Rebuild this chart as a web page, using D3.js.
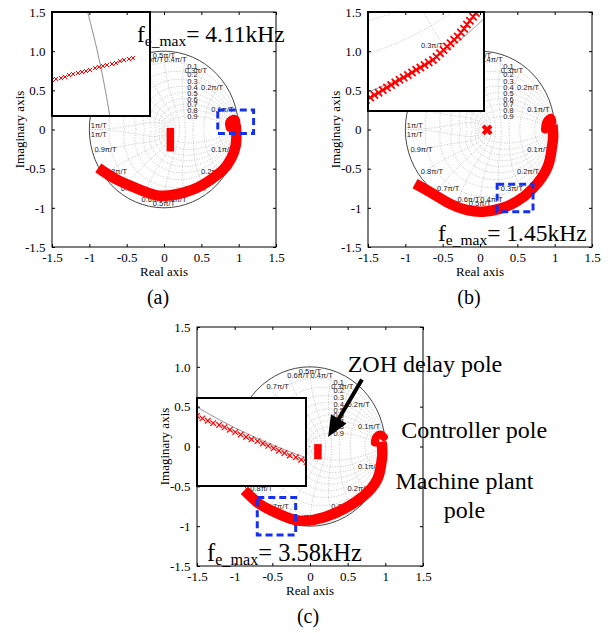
<!DOCTYPE html>
<html><head><meta charset="utf-8">
<script src="https://cdn.jsdelivr.net/npm/d3@7"></script>
<style>body{margin:0;background:#fff} svg{display:block}</style>
</head><body>
<svg id="chart" width="610" height="633"></svg>
<script>
// ---------------- data ----------------
const axisTicks = [-1.5, -1, -0.5, 0, 0.5, 1, 1.5];
const xTickLabels = ["-1.5", "-1", "-0.5", "0", "0.5", "1", "1.5"];
const yTickLabels = ["-1.5", "-1", "-0.5", "0", "0.5", "1.0", "1.5"];
const dampingRatios = [0.1, 0.2, 0.3, 0.4, 0.5, 0.6, 0.7, 0.8, 0.9];
const naturalFreqs = [0.1, 0.2, 0.3, 0.4, 0.5, 0.6, 0.7, 0.8, 0.9, 1];
const panelNames = ["(a)", "(b)", "(c)"];
const feMaxValues = ["4.11kHz", "1.45kHz", "3.58kHz"];
const annotationTexts = ["ZOH delay pole", "Controller pole", "Machine plant", "pole"];

// machine plant pole loci (real, imag)
const machinePoleA = [[0.96,0.06],[0.97,-0.1],[0.94,-0.28],[0.84,-0.46],[0.70,-0.59],[0.45,-0.74],[0.15,-0.83],[-0.1,-0.84],[-0.37,-0.75],[-0.65,-0.63],[-0.88,-0.49]];
const machinePoleB = [[0.97,0.06],[0.98,-0.1],[0.96,-0.25],[0.90,-0.49],[0.71,-0.75],[0.49,-0.92],[0.27,-1.01],[0.04,-1.05],[-0.17,-1.03],[-0.40,-0.95],[-0.63,-0.82],[-0.87,-0.69]];
const machinePoleC = [[0.95,0.06],[0.96,-0.1],[0.94,-0.25],[0.89,-0.42],[0.70,-0.63],[0.35,-0.83],[0.05,-0.92],[-0.2,-0.92],[-0.5,-0.81],[-0.7,-0.7],[-0.87,-0.55]];
// controller pole loci
const controllerPoleA = [[0.88,0.02],[0.87,0.08],[0.91,0.13],[0.96,0.13],[0.97,0.08]];
const controllerPoleB = [[0.87,0.0],[0.89,0.1],[0.95,0.15],[0.97,0.1]];
const controllerPoleC = [[0.86,0.05],[0.88,0.12],[0.94,0.15],[0.98,0.12]];
// ZOH delay pole loci
const zohPoleA = [[0.085,0.02],[0.085,-0.28]];
const zohPoleB = [[0.095,-0.005]];
const zohPoleC = [[0.105,0.03],[0.105,-0.16]];
// zoom boxes [xmin, xmax, ymin, ymax]
const zoomBoxA = [0.72, 1.2, -0.05, 0.25];
const zoomBoxB = [0.23, 0.71, -1.05, -0.70];
const zoomBoxC = [-0.70, -0.19, -1.11, -0.64];
// inset domains
const insetXA = [0.930, 1.028], insetYA = [0.156, 0.260];
const insetXB = [0.342, 0.703], insetYB = [-0.999, -0.691];
const insetXC = [-0.510, -0.328], insetYC = [-0.992, -0.845];
// inset pole markers
const insetMarkersA = [[0.930,0.192],[0.934,0.193],[0.939,0.194],[0.943,0.195],[0.947,0.197],[0.951,0.198],[0.956,0.199],[0.960,0.200],[0.964,0.201],[0.968,0.202],[0.973,0.204],[0.977,0.205],[0.981,0.206],[0.985,0.207],[0.990,0.208],[0.994,0.209],[0.998,0.211],[1.002,0.212],[1.007,0.213],[1.011,0.214]];
const insetMarkersB = [[0.336,-0.965],[0.349,-0.957],[0.362,-0.949],[0.375,-0.942],[0.388,-0.934],[0.401,-0.926],[0.414,-0.918],[0.427,-0.910],[0.440,-0.902],[0.453,-0.895],[0.466,-0.887],[0.479,-0.879],[0.492,-0.871],[0.505,-0.864],[0.518,-0.856],[0.531,-0.848],[0.544,-0.840],[0.555,-0.830],[0.566,-0.819],[0.577,-0.809],[0.588,-0.798],[0.599,-0.788],[0.610,-0.777],[0.621,-0.767],[0.631,-0.755],[0.641,-0.743],[0.650,-0.730],[0.659,-0.718],[0.669,-0.706],[0.678,-0.694]];
const insetMarkersC = [[-0.510,-0.875],[-0.501,-0.879],[-0.492,-0.883],[-0.483,-0.887],[-0.473,-0.890],[-0.464,-0.894],[-0.455,-0.898],[-0.446,-0.902],[-0.437,-0.906],[-0.428,-0.910],[-0.419,-0.914],[-0.409,-0.917],[-0.400,-0.921],[-0.391,-0.925],[-0.382,-0.929],[-0.373,-0.933],[-0.364,-0.937],[-0.355,-0.941],[-0.345,-0.944],[-0.336,-0.948],[-0.327,-0.952]];

// ---------------- drawing ----------------
const SERIF = "'Liberation Serif','Times New Roman',serif";
const SANS = "'Liberation Sans',Arial,sans-serif";
const RED = "#ff0000";
const svg = d3.select("#chart");
let clipCount = 0;

function addClip(x0, y0, w, h) {
  const id = "clip" + (clipCount++);
  svg.append("clipPath").attr("id", id).append("rect")
    .attr("x", x0).attr("y", y0).attr("width", w).attr("height", h);
  return "url(#" + id + ")";
}

// bounds: [x0,x1,y0,y1] pixel region where labels are allowed
function zgrid(g, x, y, withLabels, bounds) {
  const line = d3.line().x(d => x(d[0])).y(d => y(d[1]));
  const gridStyle = p => p.attr("fill", "none").attr("stroke", "#a8a8a8")
    .attr("stroke-width", 0.7).attr("stroke-dasharray", "1,1.6");
  dampingRatios.forEach(z => {
    const s = Math.sqrt(1 - z * z), tMax = Math.PI / s;
    [1, -1].forEach(sg => {
      const pts = d3.range(0, 301).map(i => {
        const t = tMax * i / 300, m = Math.exp(-z * t);
        return [m * Math.cos(s * t), sg * m * Math.sin(s * t)];
      });
      g.append("path").attr("d", line(pts)).call(gridStyle);
    });
  });
  naturalFreqs.forEach(w => {
    const W = w * Math.PI;
    [1, -1].forEach(sg => {
      const pts = d3.range(0, 121).map(i => {
        const z = i / 120, m = Math.exp(-z * W), a = W * Math.sqrt(1 - z * z);
        return [m * Math.cos(a), sg * m * Math.sin(a)];
      });
      g.append("path").attr("d", line(pts)).call(gridStyle);
    });
  });
  if (!withLabels) return;
  const inside = (px, py, anchor) => {
    const w = 22, l = anchor === "end" ? px - w : (anchor === "middle" ? px - w / 2 : px);
    return l >= bounds[0] && l + w <= bounds[1] && py - 7 >= bounds[2] && py + 1 <= bounds[3];
  };
  const lab = g.append("g").style("font-family", SANS).style("font-size", "7.5px").attr("fill", "#222");
  naturalFreqs.forEach(w => {
    const a = w * Math.PI;
    const cx = Math.cos(a), sy = Math.sin(a);
    const anchor = w < 0.45 ? "end" : (w > 0.55 ? "start" : "middle");
    const txt = (w === 1 ? "1" : w) + "\u03c0/T";
    const px = x(cx * 0.98);
    [[y(sy) + 7], [y(-sy) - 2]].forEach(([py]) => {
      if (inside(px, py, anchor))
        lab.append("text").attr("x", px).attr("y", py).attr("text-anchor", anchor).text(txt);
    });
  });
  dampingRatios.forEach(z => {
    const s = Math.sqrt(1 - z * z);
    let pt = [1, 0];
    for (let i = 0; i < 2000; i++) {
      const t = i * 0.002, m = Math.exp(-z * t);
      pt = [m * Math.cos(s * t), m * Math.sin(s * t)];
      if (pt[0] <= 0.38) break;
    }
    const px = x(0.38), py = y(pt[1]) + 3;
    if (px - 6 >= bounds[0] && px + 6 <= bounds[1] && py - 7 >= bounds[2] && py <= bounds[3])
      lab.append("text").attr("x", px).attr("y", py).attr("text-anchor", "middle").text(z);
  });
}

function crossPath(r) { return `M${-r},${-r}L${r},${r}M${-r},${r}L${r},${-r}`; }

function drawPanel(p, idx) {
  const x = d3.scaleLinear().domain([-1.5, 1.5]).range([p.left, p.right]);
  const y = d3.scaleLinear().domain([-1.5, 1.5]).range([p.bottom, p.top]);
  const g = svg.append("g");
  const plot = g.append("g").attr("clip-path", addClip(p.left, p.top, p.right - p.left, p.bottom - p.top));
  zgrid(plot.append("g"), x, y, true, [p.left, p.right, p.top, p.bottom]);
  // unit circle
  plot.append("ellipse").attr("cx", x(0)).attr("cy", y(0))
    .attr("rx", x(1) - x(0)).attr("ry", y(0) - y(1))
    .attr("fill", "none").attr("stroke", "#333").attr("stroke-width", 0.9);
  const smooth = d3.line().x(d => x(d[0])).y(d => y(d[1])).curve(d3.curveNatural);
  const loop = d3.line().x(d => x(d[0])).y(d => y(d[1])).curve(d3.curveCatmullRom);
  // machine plant pole
  plot.append("path").attr("d", smooth(p.machine)).attr("fill", "none")
    .attr("stroke", RED).attr("stroke-width", 10.5).attr("stroke-linejoin", "round");
  // controller pole
  plot.append("path").attr("d", loop(p.controller)).attr("fill", "none")
    .attr("stroke", RED).attr("stroke-width", 8).attr("stroke-linecap", "round").attr("stroke-linejoin", "round");
  // ZOH pole
  if (p.zoh.length > 1) {
    plot.append("path").attr("d", d3.line().x(d => x(d[0])).y(d => y(d[1]))(p.zoh))
      .attr("fill", "none").attr("stroke", RED).attr("stroke-width", 7.5);
  } else {
    plot.selectAll(null).data(p.zoh).join("path")
      .attr("transform", d => `translate(${x(d[0])},${y(d[1])})`)
      .attr("d", crossPath(4)).attr("stroke", RED).attr("stroke-width", 4);
  }
  // zoom box
  const b = p.box;
  g.append("rect").attr("x", x(b[0])).attr("y", y(b[3]))
    .attr("width", x(b[1]) - x(b[0])).attr("height", y(b[2]) - y(b[3]))
    .attr("fill", "none").attr("stroke", "#1430f0").attr("stroke-width", 3)
    .attr("stroke-dasharray", "7,4");
  // inset
  const ins = p.inset;
  const [ix0, ix1, iy0, iy1] = ins.px;
  const ix = d3.scaleLinear().domain(ins.dx).range([ix0, ix1]);
  const iy = d3.scaleLinear().domain(ins.dy).range([iy1, iy0]);
  const ig = g.append("g");
  ig.append("rect").attr("x", ix0).attr("y", iy0).attr("width", ix1 - ix0).attr("height", iy1 - iy0).attr("fill", "#fff");
  const ic = ig.append("g").attr("clip-path", addClip(ix0, iy0, ix1 - ix0, iy1 - iy0));
  if (ins.grid) zgrid(ic.append("g"), ix, iy, true, [ix0, ix1, iy0, iy1]);
  const circ = d3.range(0, 3601).map(i => [Math.cos(i / 3600 * 2 * Math.PI), Math.sin(i / 3600 * 2 * Math.PI)]);
  ic.append("path").attr("d", d3.line().x(d => ix(d[0])).y(d => iy(d[1]))(circ))
    .attr("fill", "none").attr("stroke", "#8a8a8a").attr("stroke-width", 1);
  ic.selectAll(null).data(ins.markers).join("path")
    .attr("transform", d => `translate(${ix(d[0])},${iy(d[1])})`)
    .attr("d", crossPath(ins.ms)).attr("stroke", RED).attr("stroke-width", ins.sw).attr("fill", "none");
  ig.append("rect").attr("x", ix0).attr("y", iy0).attr("width", ix1 - ix0).attr("height", iy1 - iy0)
    .attr("fill", "none").attr("stroke", "#000").attr("stroke-width", 2);

  // axes
  const fmtX = (d, i) => xTickLabels[i], fmtY = (d, i) => yTickLabels[i];
  const styleAxis = a => {
    a.select(".domain").remove();
    a.selectAll("line").attr("stroke", "#000");
    a.selectAll("text").style("font-family", SERIF).style("font-size", "13px").attr("fill", "#000");
  };
  g.append("g").attr("transform", `translate(0,${p.bottom})`)
    .call(d3.axisBottom(x).tickValues(axisTicks).tickFormat(fmtX).tickSize(-3).tickPadding(5.5)).call(styleAxis);
  g.append("g").attr("transform", `translate(0,${p.top})`)
    .call(d3.axisTop(x).tickValues(axisTicks).tickFormat("").tickSize(-3)).call(styleAxis);
  g.append("g").attr("transform", `translate(${p.left},0)`)
    .call(d3.axisLeft(y).tickValues(axisTicks).tickFormat(fmtY).tickSize(-3).tickPadding(6.5)).call(styleAxis);
  g.append("g").attr("transform", `translate(${p.right},0)`)
    .call(d3.axisRight(y).tickValues(axisTicks).tickFormat("").tickSize(-3)).call(styleAxis);
  g.append("rect").attr("x", p.left).attr("y", p.top).attr("width", p.right - p.left).attr("height", p.bottom - p.top)
    .attr("fill", "none").attr("stroke", "#000").attr("stroke-width", 1);

  // axis titles
  g.append("text").attr("x", (p.left + p.right) / 2).attr("y", p.bottom + 29)
    .attr("text-anchor", "middle").style("font-family", SERIF).style("font-size", "13px").text("Real axis");
  g.append("text").attr("transform", `translate(${p.left - 28},${(p.top + p.bottom) / 2}) rotate(-90)`)
    .attr("text-anchor", "middle").style("font-family", SERIF).style("font-size", "13px").text("Imaginary axis");

  // f_e_max label
  const fe = g.append("text").attr("x", p.fe[0]).attr("y", p.fe[1])
    .style("font-family", SERIF).style("font-size", p.feSize + "px").attr("fill", "#000");
  fe.append("tspan").text("f");
  fe.append("tspan").attr("dy", 4).style("font-size", (p.feSize * 0.66) + "px").text("e_max");
  fe.append("tspan").attr("dy", -4).text("= " + feMaxValues[idx]);

  // panel name
  g.append("text").attr("x", p.name[0]).attr("y", p.name[1]).attr("text-anchor", "middle")
    .style("font-family", SERIF).style("font-size", "20px").text(panelNames[idx]);
  return { x, y };
}

const panels = [
  { left: 52, right: 276, top: 12, bottom: 247, machine: machinePoleA, controller: controllerPoleA, zoh: zohPoleA, box: zoomBoxA,
    inset: { px: [52, 150, 12, 116], dx: insetXA, dy: insetYA, markers: insetMarkersA, grid: false, ms: 2.1, sw: 1 },
    fe: [137, 42], feSize: 23.5, name: [158, 304] },
  { left: 368, right: 592, top: 12, bottom: 247, machine: machinePoleB, controller: controllerPoleB, zoh: zohPoleB, box: zoomBoxB,
    inset: { px: [368, 484, 12, 111], dx: insetXB, dy: insetYB, markers: insetMarkersB, grid: true, ms: 3.6, sw: 1.8 },
    fe: [438, 241], feSize: 23.5, name: [469, 304] },
  { left: 197, right: 423, top: 327, bottom: 566, machine: machinePoleC, controller: controllerPoleC, zoh: zohPoleC, box: zoomBoxC,
    inset: { px: [197, 306, 398, 486], dx: insetXC, dy: insetYC, markers: insetMarkersC, grid: false, ms: 2.8, sw: 1.2 },
    fe: [207, 561], feSize: 24.5, name: [308, 623] }
];

const scales = panels.map((p, i) => drawPanel(p, i));

// annotations on panel (c)
const sc = scales[2];
const ann = svg.append("g").style("font-family", SERIF).style("font-size", "24px").attr("fill", "#000");
ann.append("text").attr("x", sc.x(0.50)).attr("y", sc.y(0.94)).text(annotationTexts[0]);
ann.append("text").attr("x", sc.x(1.21)).attr("y", sc.y(0.11)).text(annotationTexts[1]);
ann.append("text").attr("x", sc.x(2.05)).attr("y", sc.y(-0.53)).attr("text-anchor", "middle").text(annotationTexts[2]);
ann.append("text").attr("x", sc.x(2.05)).attr("y", sc.y(-0.90)).attr("text-anchor", "middle").text(annotationTexts[3]);
// arrow
const tail = [sc.x(0.69), sc.y(0.84)], tip = [sc.x(0.24), sc.y(0.12)];
const ang = Math.atan2(tip[1] - tail[1], tip[0] - tail[0]);
const hl = 21, hw = 9;
const base = [tip[0] - hl * Math.cos(ang), tip[1] - hl * Math.sin(ang)];
svg.append("line").attr("x1", tail[0]).attr("y1", tail[1]).attr("x2", base[0] + 2 * Math.cos(ang)).attr("y2", base[1] + 2 * Math.sin(ang))
  .attr("stroke", "#000").attr("stroke-width", 4);
svg.append("polygon").attr("points", [
  tip,
  [base[0] + hw * Math.sin(ang), base[1] - hw * Math.cos(ang)],
  [base[0] - hw * Math.sin(ang), base[1] + hw * Math.cos(ang)]
].map(d => d.join(",")).join(" ")).attr("fill", "#000");
</script>
</body></html>
